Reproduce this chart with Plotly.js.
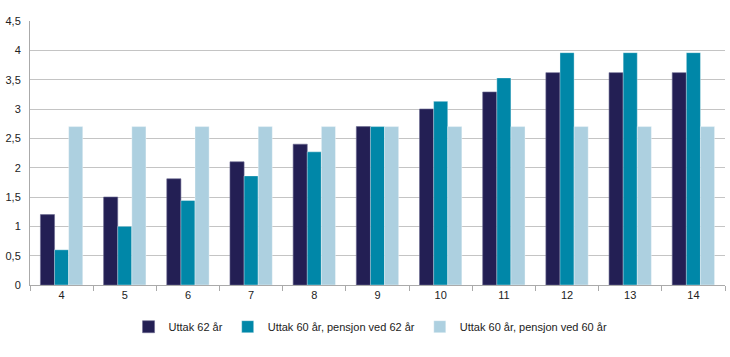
<!DOCTYPE html>
<html><head><meta charset="utf-8">
<script src="https://cdn.plot.ly/plotly-3.0.1.min.js"></script>
<style>html,body{margin:0;padding:0;background:#fff}#c{width:730px;height:357px}</style>
</head><body><div id="c"></div>
<script>
const categories = ["4","5","6","7","8","9","10","11","12","13","14"];
const seriesNames = ["Uttak 62 år", "Uttak 60 år, pensjon ved 62 år", "Uttak 60 år, pensjon ved 60 år"];
const uttak62 = [1.2, 1.5, 1.81, 2.1, 2.4, 2.7, 3.0, 3.29, 3.62, 3.62, 3.62];
const uttak60p62 = [0.6, 1.0, 1.44, 1.86, 2.27, 2.7, 3.13, 3.53, 3.96, 3.96, 3.96];
const uttak60p60 = [2.7, 2.7, 2.7, 2.7, 2.7, 2.7, 2.7, 2.7, 2.7, 2.7, 2.7];
const colors = ["#231f54", "#0087a8", "#add0e0"];

const series = [uttak62, uttak60p62, uttak60p60];
const data = series.map((v, i) => ({
  type: "bar", x: categories, y: v, name: seriesNames[i],
  marker: {color: colors[i], line: {color: i === 0 ? "#6a6890" : "rgba(255,255,255,0.6)", width: 0.6}},
  hoverinfo: "none"
}));

const layout = {
  width: 730, height: 357,
  margin: {l: 30, r: 5, t: 21, b: 72},
  paper_bgcolor: "#fff", plot_bgcolor: "#fff",
  separators: ",.",
  font: {family: "Liberation Sans, Arial, sans-serif", size: 11, color: "#222"},
  barmode: "group", bargap: 0.33, bargroupgap: 0,
  showlegend: true,
  legend: {orientation: "h", x: 0.49, xanchor: "center", y: -0.158, yanchor: "middle",
           font: {size: 11, color: "#222"}, itemwidth: 30, tracegroupgap: 0},
  xaxis: {type: "category", showline: true, linecolor: "#aaa", linewidth: 1,
          ticks: "outside", tickson: "boundaries", ticklen: 5, tickcolor: "#aaa",
          showgrid: false, tickfont: {size: 11}},
  yaxis: {range: [0, 4.5], dtick: 0.5, tick0: 0, showline: true, linecolor: "#aaa",
          gridcolor: "#c4c4c4", gridwidth: 1, zeroline: false, ticks: "",
          tickfont: {size: 11}, ticklabelstandoff: 6}
};
Plotly.newPlot("c", data, layout, {staticPlot: true});
</script></body></html>
